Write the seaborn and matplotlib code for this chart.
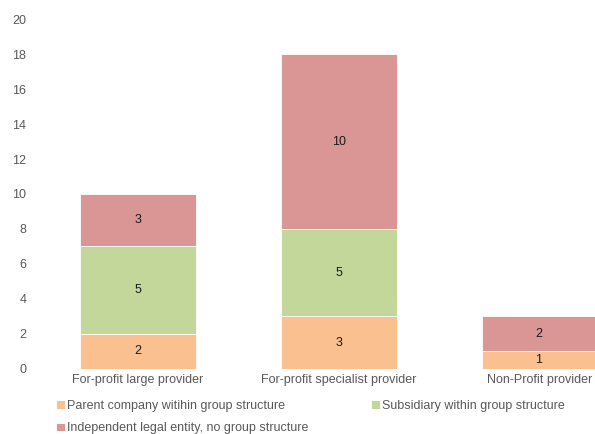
import pandas as pd
import matplotlib.pyplot as plt
import seaborn as sns

providers = ["For-profit large provider", "For-profit specialist provider", "Non-Profit provider"]
series_names = [
    "Parent company witihin group structure",
    "Subsidiary within group structure",
    "Independent legal entity, no group structure",
]
parent = [2, 3, 1]
subsidiary = [5, 5, 0]
independent = [3, 10, 2]
colors = ["#FAC090", "#C4D79B", "#DA9694"]

df = pd.DataFrame({"provider": providers, "parent": parent,
                   "subsidiary": subsidiary, "independent": independent})

sns.set_style("white")
plt.rcParams["font.family"] = ["Liberation Sans", "DejaVu Sans"]

fig = plt.figure(figsize=(5.95, 4.34), dpi=100)
ax = fig.add_axes([0.063, 0.15, 0.937, 0.806])

# stacked bars, one barplot call per series
bottom = [0, 0, 0]
for col, name, c in zip(["parent", "subsidiary", "independent"], series_names, colors):
    sns.barplot(data=df, x="provider", y=col, bottom=bottom, color=c, width=0.577,
                saturation=1, edgecolor="white", linewidth=0.6, label=name, ax=ax)
    bottom = [b + v for b, v in zip(bottom, df[col])]

for cont in ax.containers:
    labels = [f"{v:g}" if v > 0 else "" for v in cont.datavalues]
    ax.bar_label(cont, labels=labels, label_type="center", fontsize=9, color="#1a1a1a")

ax.set_ylim(0, 20)
ax.set_yticks(range(0, 21, 2))
ax.set_xlim(-0.5, 2.274)
ax.set_xlabel("")
ax.set_ylabel("")
sns.despine(ax=ax, left=True, bottom=True)
ax.tick_params(axis="both", colors="#595959", labelsize=9, length=0)
ax.tick_params(axis="y", pad=8)
ax.tick_params(axis="x", pad=4)
if ax.get_legend():
    ax.get_legend().remove()

handles, labels = ax.get_legend_handles_labels()
order = [0, 2, 1]
fig.legend([handles[i] for i in order], [labels[i] for i in order], ncol=2,
           loc="lower left", bbox_to_anchor=(0.075, -0.027), frameon=False,
           fontsize=9, labelcolor="#595959", handlelength=0.7, handleheight=0.7,
           handletextpad=0.2, columnspacing=5.0, labelspacing=0.85)

fig.savefig("out.png", dpi=100)
